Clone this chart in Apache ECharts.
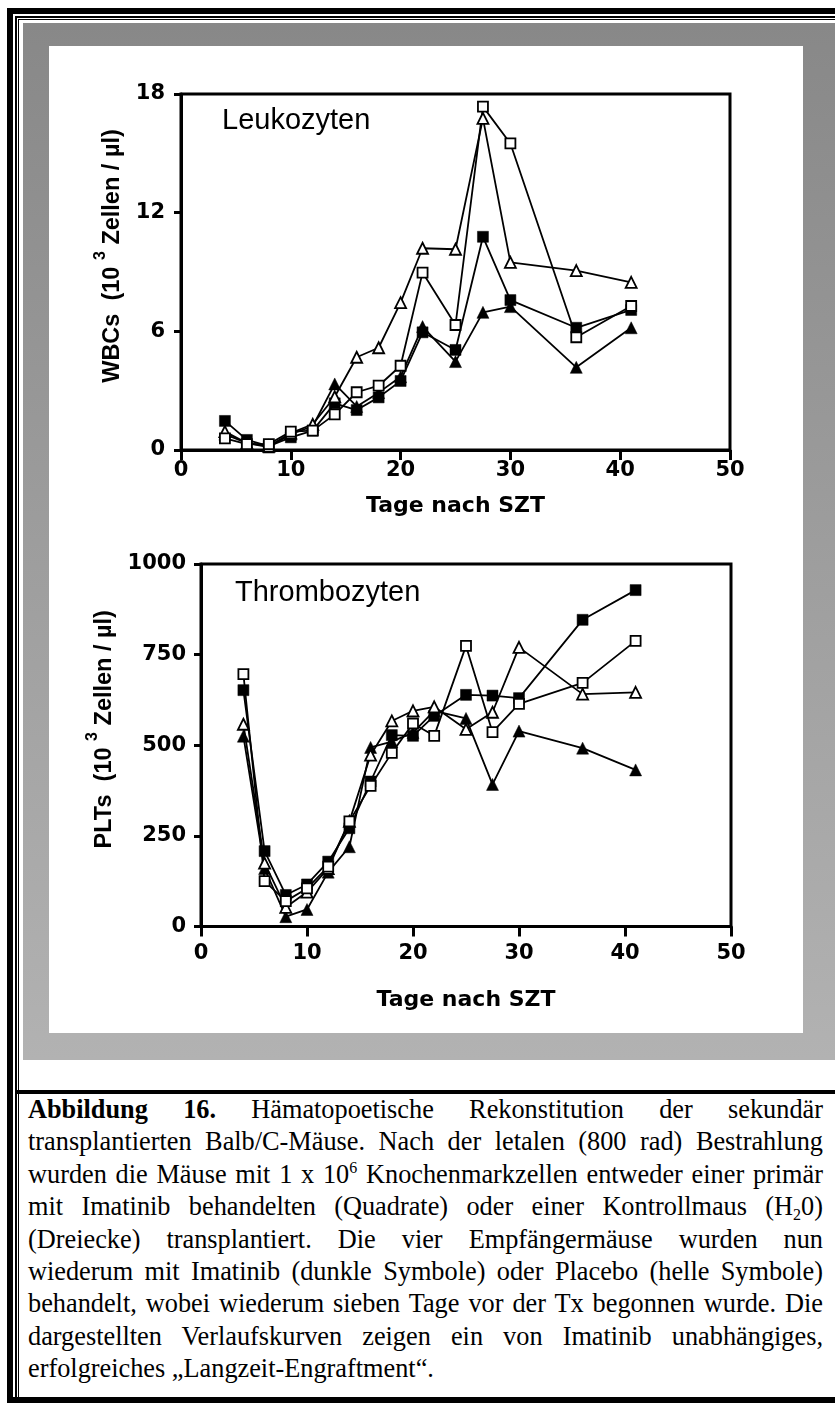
<!DOCTYPE html>
<html>
<head>
<meta charset="utf-8">
<script src="https://cdn.jsdelivr.net/npm/echarts/dist/echarts.min.js"></script>
<style>
  html, body { margin:0; padding:0; }
  body { width:835px; height:1403px; position:relative; overflow:hidden; background:#fff; }
  .abs { position:absolute; box-sizing:border-box; }
  #f1 { left:7px; top:8px; width:900px; height:1395px; border-left:6px solid #000; border-top:6px solid #000; border-bottom:6px solid #000; }
  #f2 { left:15px; top:16px; width:900px; height:1381px; border-left:2px solid #000; border-top:2px solid #000; }
  #f3 { left:18px; top:19px; width:900px; height:1378px; border-left:1.5px solid #000; border-top:1.5px solid #000; }
  #gray { left:23px; top:23px; width:812px; height:1037px; background:linear-gradient(#888888, #b2b2b2); }
  #panel { left:49px; top:46px; width:754px; height:987px; background:#fff; }
  #hline { left:15px; top:1090px; width:820px; height:4px; background:#000; }
  #chart { left:0; top:0; width:835px; height:1060px; }
  #caption { left:28px; top:1094px; width:795px;
             font-family:'Liberation Serif','Times New Roman',serif; font-size:26.3px; line-height:32.4px; color:#000; }
  #caption .ln { text-align:justify; text-align-last:justify; }
  #caption .last { text-align:left; text-align-last:left; }
  sup, sub { font-size:16px; line-height:0; position:relative; vertical-align:baseline; }
  sup { top:-10px; }
  sub { top:5px; }
</style>
</head>
<body>
<div id="f1" class="abs"></div>
<div id="f2" class="abs"></div>
<div id="f3" class="abs"></div>
<div id="gray" class="abs"></div>
<div id="panel" class="abs"></div>
<div id="chart" class="abs"></div>
<div id="hline" class="abs"></div>
<div id="caption" class="abs">
  <div class="ln"><b>Abbildung 16.</b> Hämatopoetische Rekonstitution der sekundär</div>
  <div class="ln">transplantierten Balb/C-Mäuse. Nach der letalen (800 rad) Bestrahlung</div>
  <div class="ln">wurden die Mäuse mit 1 x 10<sup>6</sup> Knochenmarkzellen entweder einer primär</div>
  <div class="ln">mit Imatinib behandelten (Quadrate) oder einer Kontrollmaus (H<sub>2</sub>0)</div>
  <div class="ln">(Dreiecke) transplantiert. Die vier Empfängermäuse wurden nun</div>
  <div class="ln">wiederum mit Imatinib (dunkle Symbole) oder Placebo (helle Symbole)</div>
  <div class="ln">behandelt, wobei wiederum sieben Tage vor der Tx begonnen wurde. Die</div>
  <div class="ln">dargestellten Verlaufskurven zeigen ein von Imatinib unabhängiges,</div>
  <div class="ln last">erfolgreiches „Langzeit-Engraftment“.</div>
</div>
<script>
// ---- data ----
const days = [4, 6, 8, 10, 12, 14, 16, 18, 20, 22, 25, 27.5, 30, 36, 41];
const xTicks = [0, 10, 20, 30, 40, 50];
const wbcTicks = [0, 6, 12, 18];
const pltTicks = [0, 250, 500, 750, 1000];

// WBCs (10^3 Zellen / µl)
const wbcFilledSquare = [1.47, 0.51, 0.20, 0.64, 0.98, 2.36, 2.02, 2.66, 3.49, 5.95, 5.06, 10.78, 7.58, 6.18, 7.08];
const wbcOpenSquare   = [0.59, 0.30, 0.30, 0.93, 0.98, 1.80, 2.92, 3.25, 4.26, 8.97, 6.32, 17.36, 15.50, 5.70, 7.28];
const wbcFilledTri    = [0.80, 0.35, 0.15, 0.80, 1.20, 3.34, 2.20, 2.90, 3.70, 6.24, 4.47, 6.96, 7.25, 4.18, 6.18];
const wbcOpenTri      = [0.93, 0.35, 0.20, 0.85, 1.30, 2.69, 4.69, 5.17, 7.45, 10.20, 10.15, 16.77, 9.49, 9.07, 8.48];

// PLTs (10^3 Zellen / µl)
const pltFilledSquare = [652, 208, 87, 116, 179, 271, 400, 528, 526, 581, 639, 637, 630, 846, 928];
const pltOpenSquare   = [696, 125, 70, 105, 165, 290, 388, 479, 560, 526, 774, 536, 614, 672, 788];
const pltFilledTri    = [525, 160, 27, 47, 150, 220, 494, 510, 535, 595, 574, 392, 539, 492, 432];
const pltOpenTri      = [558, 175, 53, 95, 160, 290, 473, 567, 595, 606, 544, 591, 770, 641, 646];

// ---- chart ----
const pairs = (ys) => days.map((d, i) => [d, ys[i]]);
const BOLD = 'DejaVu Sans';
const chart = echarts.init(document.getElementById('chart'), null, { renderer: 'canvas' });

function xAxisDef(gridIndex, labelMargin, nameGap) {
  return {
    type: 'value', gridIndex, min: xTicks[0], max: xTicks[xTicks.length - 1],
    interval: xTicks[1] - xTicks[0],
    axisLine: { show: true, onZero: false, lineStyle: { color: '#000', width: 3 } },
    axisTick: { show: true, length: 10, lineStyle: { color: '#000', width: 3 } },
    axisLabel: { color: '#000', fontFamily: BOLD, fontWeight: 'bold', fontSize: 21, margin: labelMargin,
                 formatter: (v) => String(v) },
    splitLine: { show: false },
    name: 'Tage nach SZT', nameLocation: 'middle', nameGap,
    nameTextStyle: { color: '#000', fontFamily: BOLD, fontWeight: 'bold', fontSize: 22 }
  };
}
function yAxisDef(gridIndex, ticks, label, nameGap, labelMargin) {
  return {
    type: 'value', gridIndex, min: ticks[0], max: ticks[ticks.length - 1],
    interval: ticks[1] - ticks[0],
    axisLine: { show: true, onZero: false, lineStyle: { color: '#000', width: 3 } },
    axisTick: { show: true, length: 7, lineStyle: { color: '#000', width: 3 } },
    axisLabel: { color: '#000', fontFamily: BOLD, fontWeight: 'bold', fontSize: 21, margin: labelMargin,
                 formatter: (v) => String(v) },
    splitLine: { show: false },
    name: '{b|' + label + '  (10 }{s|3}{b| Zellen / µl)}',
    nameLocation: 'middle', nameRotate: 90, nameGap,
    nameTextStyle: {
      padding: [0, 0, 0, 32],
      rich: {
        b: { color: '#000', fontFamily: 'Liberation Sans', fontWeight: 'bold', fontSize: 23.5, lineHeight: 32, verticalAlign: 'bottom' },
        s: { color: '#000', fontFamily: 'Liberation Sans', fontWeight: 'bold', fontSize: 16, lineHeight: 32, verticalAlign: 'top' }
      }
    }
  };
}
function ser(gi, ys, shape, filled) {
  const tri = shape === 'triangle';
  return {
    type: 'line', xAxisIndex: gi, yAxisIndex: gi, data: pairs(ys),
    symbol: shape,
    symbolSize: filled ? (tri ? 12 : 11) : (tri ? 11 : 10),
    lineStyle: { color: '#000', width: 1.8 },
    itemStyle: filled ? { color: '#000', borderColor: '#000', borderWidth: 0.5 }
                      : { color: '#fff', borderColor: '#000', borderWidth: 1.8 },
    showSymbol: true, animation: false, silent: true,
    z: filled ? 3 : 4
  };
}

chart.setOption({
  backgroundColor: 'transparent',
  animation: false,
  grid: [
    { left: 181, top: 94, width: 549, height: 356, show: true, borderColor: '#000', borderWidth: 3, backgroundColor: 'transparent' },
    { left: 201, top: 564, width: 530, height: 362.5, show: true, borderColor: '#000', borderWidth: 3, backgroundColor: 'transparent' }
  ],
  xAxis: [xAxisDef(0, 10, 45), xAxisDef(1, 17, 63)],
  yAxis: [yAxisDef(0, wbcTicks, 'WBCs', 54, 16), yAxisDef(1, pltTicks, 'PLTs', 74, 15)],
  graphic: [
    { type: 'text', left: 222, top: 106, style: { text: 'Leukozyten', fill: '#000', font: '29px "Liberation Sans", Arial, sans-serif' } },
    { type: 'text', left: 235, top: 578, style: { text: 'Thrombozyten', fill: '#000', font: '29px "Liberation Sans", Arial, sans-serif' } }
  ],
  series: [
    ser(0, wbcFilledTri, 'triangle', true),
    ser(0, wbcFilledSquare, 'rect', true),
    ser(0, wbcOpenTri, 'triangle', false),
    ser(0, wbcOpenSquare, 'rect', false),
    ser(1, pltFilledTri, 'triangle', true),
    ser(1, pltFilledSquare, 'rect', true),
    ser(1, pltOpenTri, 'triangle', false),
    ser(1, pltOpenSquare, 'rect', false)
  ]
});
</script>
</body>
</html>
